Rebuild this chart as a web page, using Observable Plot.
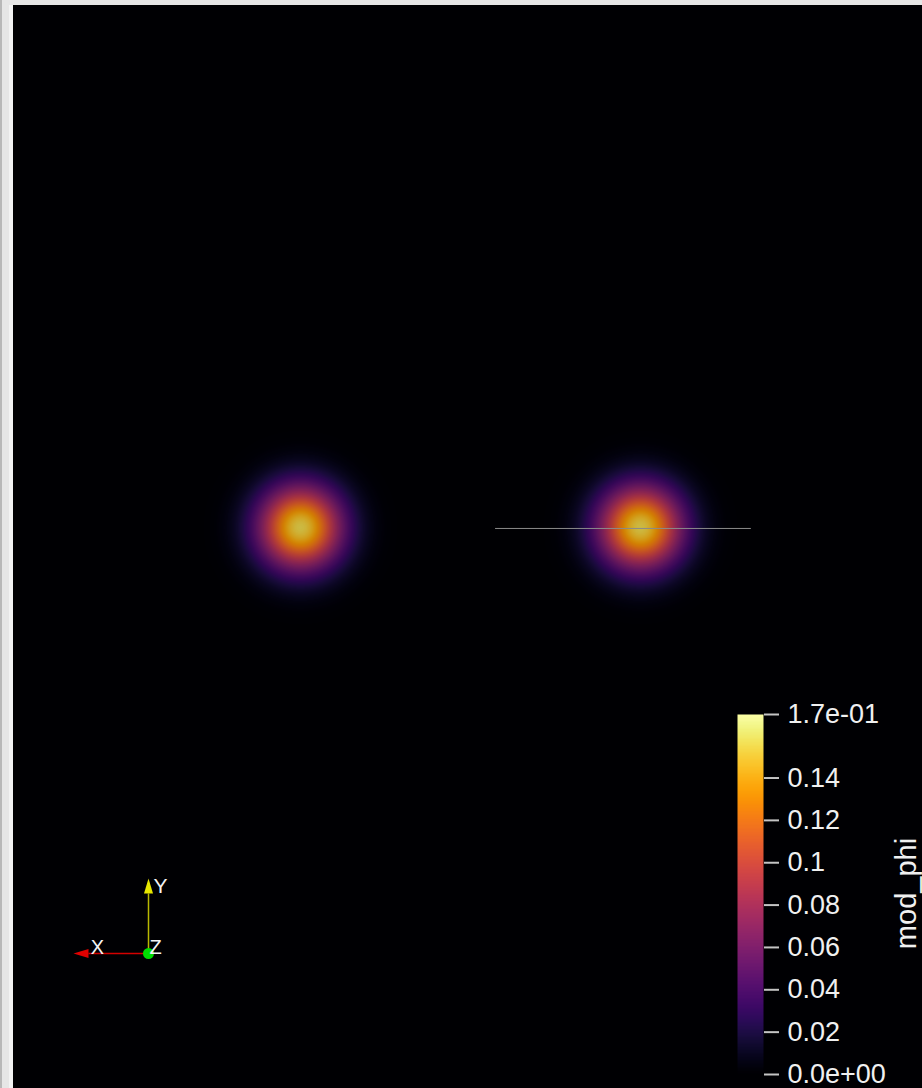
<!DOCTYPE html>
<html><head><meta charset="utf-8">
<script src="https://cdn.jsdelivr.net/npm/d3@7"></script>
<script src="https://cdn.jsdelivr.net/npm/@observablehq/plot@0.6"></script>
<style>
html,body{margin:0;padding:0;width:922px;height:1088px;overflow:hidden;background:#e6e6e6;font-family:"Liberation Sans",Arial,sans-serif;}
#edge{position:absolute;left:0;top:0;width:2px;height:1088px;background:#b8b8b8;}
#edge2{position:absolute;left:9px;top:5px;width:4px;height:1083px;background:#f3f3f3;}
#view{position:absolute;left:13px;top:5px;width:909px;height:1083px;background:#000;}
#bar{position:absolute;left:720px;top:690px;}
#triad{position:absolute;left:60px;top:860px;}
svg{display:block;}
</style></head><body>
<div id="edge"></div><div id="edge2"></div>
<div id="view"></div>
<div id="triad"></div>
<div id="bar"></div>
<script>
// ---- data ----
const blobX = [-1, 1];
const blobY = [0, 0];
const blobPeak = [0.155, 0.155];
const blobRadius = [0.245, 0.245];
const blobExponent = [2, 2];

const probeX = [0.147, 1.647];
const probeY = [-0.006, -0.006];

const barTicks = [0, 0.02, 0.04, 0.06, 0.08, 0.1, 0.12, 0.14, 0.17];
const barLabels = ["0.0e+00", "0.02", "0.04", "0.06", "0.08", "0.1", "0.12", "0.14", "1.7e-01"];
const barTitle = "mod_phi";
const colorDomain = [0, 0.17];

const triadLabels = ["X", "Y", "Z"];
const triadDirX = [-1, 0, 0];
const triadDirY = [0, 1, 0];

// ---- field ----
function field(x, y) {
  let v = 0;
  for (let i = 0; i < blobX.length; i++) {
    const r = Math.hypot(x - blobX[i], y - blobY[i]) / blobRadius[i];
    v += blobPeak[i] * Math.exp(-Math.pow(r, blobExponent[i]));
  }
  return v;
}

const xDom = [-2.688, 2.659];
const yDom = [-3.3, 3.07];

const main = Plot.plot({
  width: 909, height: 1083, margin: 0,
  x: {domain: xDom, axis: null},
  y: {domain: yDom, axis: null},
  color: {type: "linear", scheme: "inferno", domain: colorDomain},
  style: {background: "#000"},
  marks: [
    Plot.raster({x1: xDom[0], x2: xDom[1], y1: yDom[0], y2: yDom[1], fill: field, pixelSize: 1, opacity: 0.84}),
    Plot.line(probeX.map((x, i) => ({x, y: probeY[i]})), {x: "x", y: "y", stroke: "#8a8a8a", strokeWidth: 1})
  ]
});
document.getElementById("view").appendChild(main);

// ---- colour bar ----
const bar = Plot.plot({
  width: 202, height: 398,
  marginLeft: 17, marginRight: 159, marginTop: 24, marginBottom: 14,
  x: {domain: [0, 1], axis: null},
  y: {domain: colorDomain, axis: null},
  color: {type: "linear", scheme: "inferno", domain: colorDomain},
  style: {background: "transparent", color: "#f0f0f0", overflow: "visible"},
  marks: [
    Plot.raster({x1: 0, x2: 1, y1: colorDomain[0], y2: colorDomain[1], fill: (x, y) => y, pixelSize: 1}),
    Plot.axisY(barTicks, {anchor: "right", tickSize: 15, tickPadding: 9, stroke: "#c4c4c4", strokeWidth: 2,
      tickFormat: d => barLabels[barTicks.indexOf(d)], fontSize: 27, fill: "#f0f0f0", fontFamily: "Liberation Sans"}),
    Plot.text([barTitle], {frameAnchor: "right", textAnchor: "middle", lineAnchor: "middle", dx: 143, dy: -1, rotate: -90, fontSize: 29, fill: "#f0f0f0", fontFamily: "Liberation Sans"})
  ]
});
document.getElementById("bar").appendChild(bar);

// ---- orientation triad ----
const triad = triadLabels.map((name, i) => ({name, dx: triadDirX[i], dy: triadDirY[i]}));
const cone = {draw(context, l, r) { context.moveTo(-4.5, 0); context.lineTo(0, -l); context.lineTo(4.5, 0); context.closePath(); }};
const tri = Plot.plot({
  width: 130, height: 110, margin: 0,
  x: {domain: [-1.1733, 0.56], axis: null},
  y: {domain: [-0.2267, 1.24], axis: null},
  style: {background: "transparent", overflow: "visible"},
  marks: [
    Plot.link(triad.filter(d => d.name === "X"), {x1: 0, y1: 0, x2: d => 0.8 * d.dx, y2: d => 0.8 * d.dy, stroke: "#d40000", strokeWidth: 1.5}),
    Plot.link(triad.filter(d => d.name === "Y"), {x1: 0, y1: 0, x2: d => 0.8 * d.dx, y2: d => 0.8 * d.dy, stroke: "#b8b800", strokeWidth: 1.5}),
    Plot.vector(triad.filter(d => d.name === "X"), {x: d => 0.8 * d.dx, y: d => 0.8 * d.dy, length: 15, rotate: -90, anchor: "start", shape: cone, fill: "#e00000", stroke: "none"}),
    Plot.vector(triad.filter(d => d.name === "Y"), {x: d => 0.8 * d.dx, y: d => 0.8 * d.dy, length: 15, rotate: 0, anchor: "start", shape: cone, fill: "#e6e600", stroke: "none"}),
    Plot.dot([0], {x: 0, y: 0, r: 5.5, fill: "#00dd00"}),
    Plot.text(triad.filter(d => d.name === "Y"), {x: d => d.dx + 0.067, y: d => 0.893, text: "name", textAnchor: "start", fontSize: 21, fill: "#f4f4f4", fontFamily: "Liberation Sans"}),
    Plot.text(triad.filter(d => d.name === "X"), {x: d => 0.68 * d.dx, y: 0.08, text: "name", textAnchor: "middle", fontSize: 20, fill: "#f4f4f4", fontFamily: "Liberation Sans"}),
    Plot.text(triad.filter(d => d.name === "Z"), {x: 0.013, y: 0.08, text: "name", textAnchor: "start", fontSize: 20, fill: "#f4f4f4", fontFamily: "Liberation Sans"})
  ]
});
document.getElementById("triad").appendChild(tri);
</script>
</body></html>
